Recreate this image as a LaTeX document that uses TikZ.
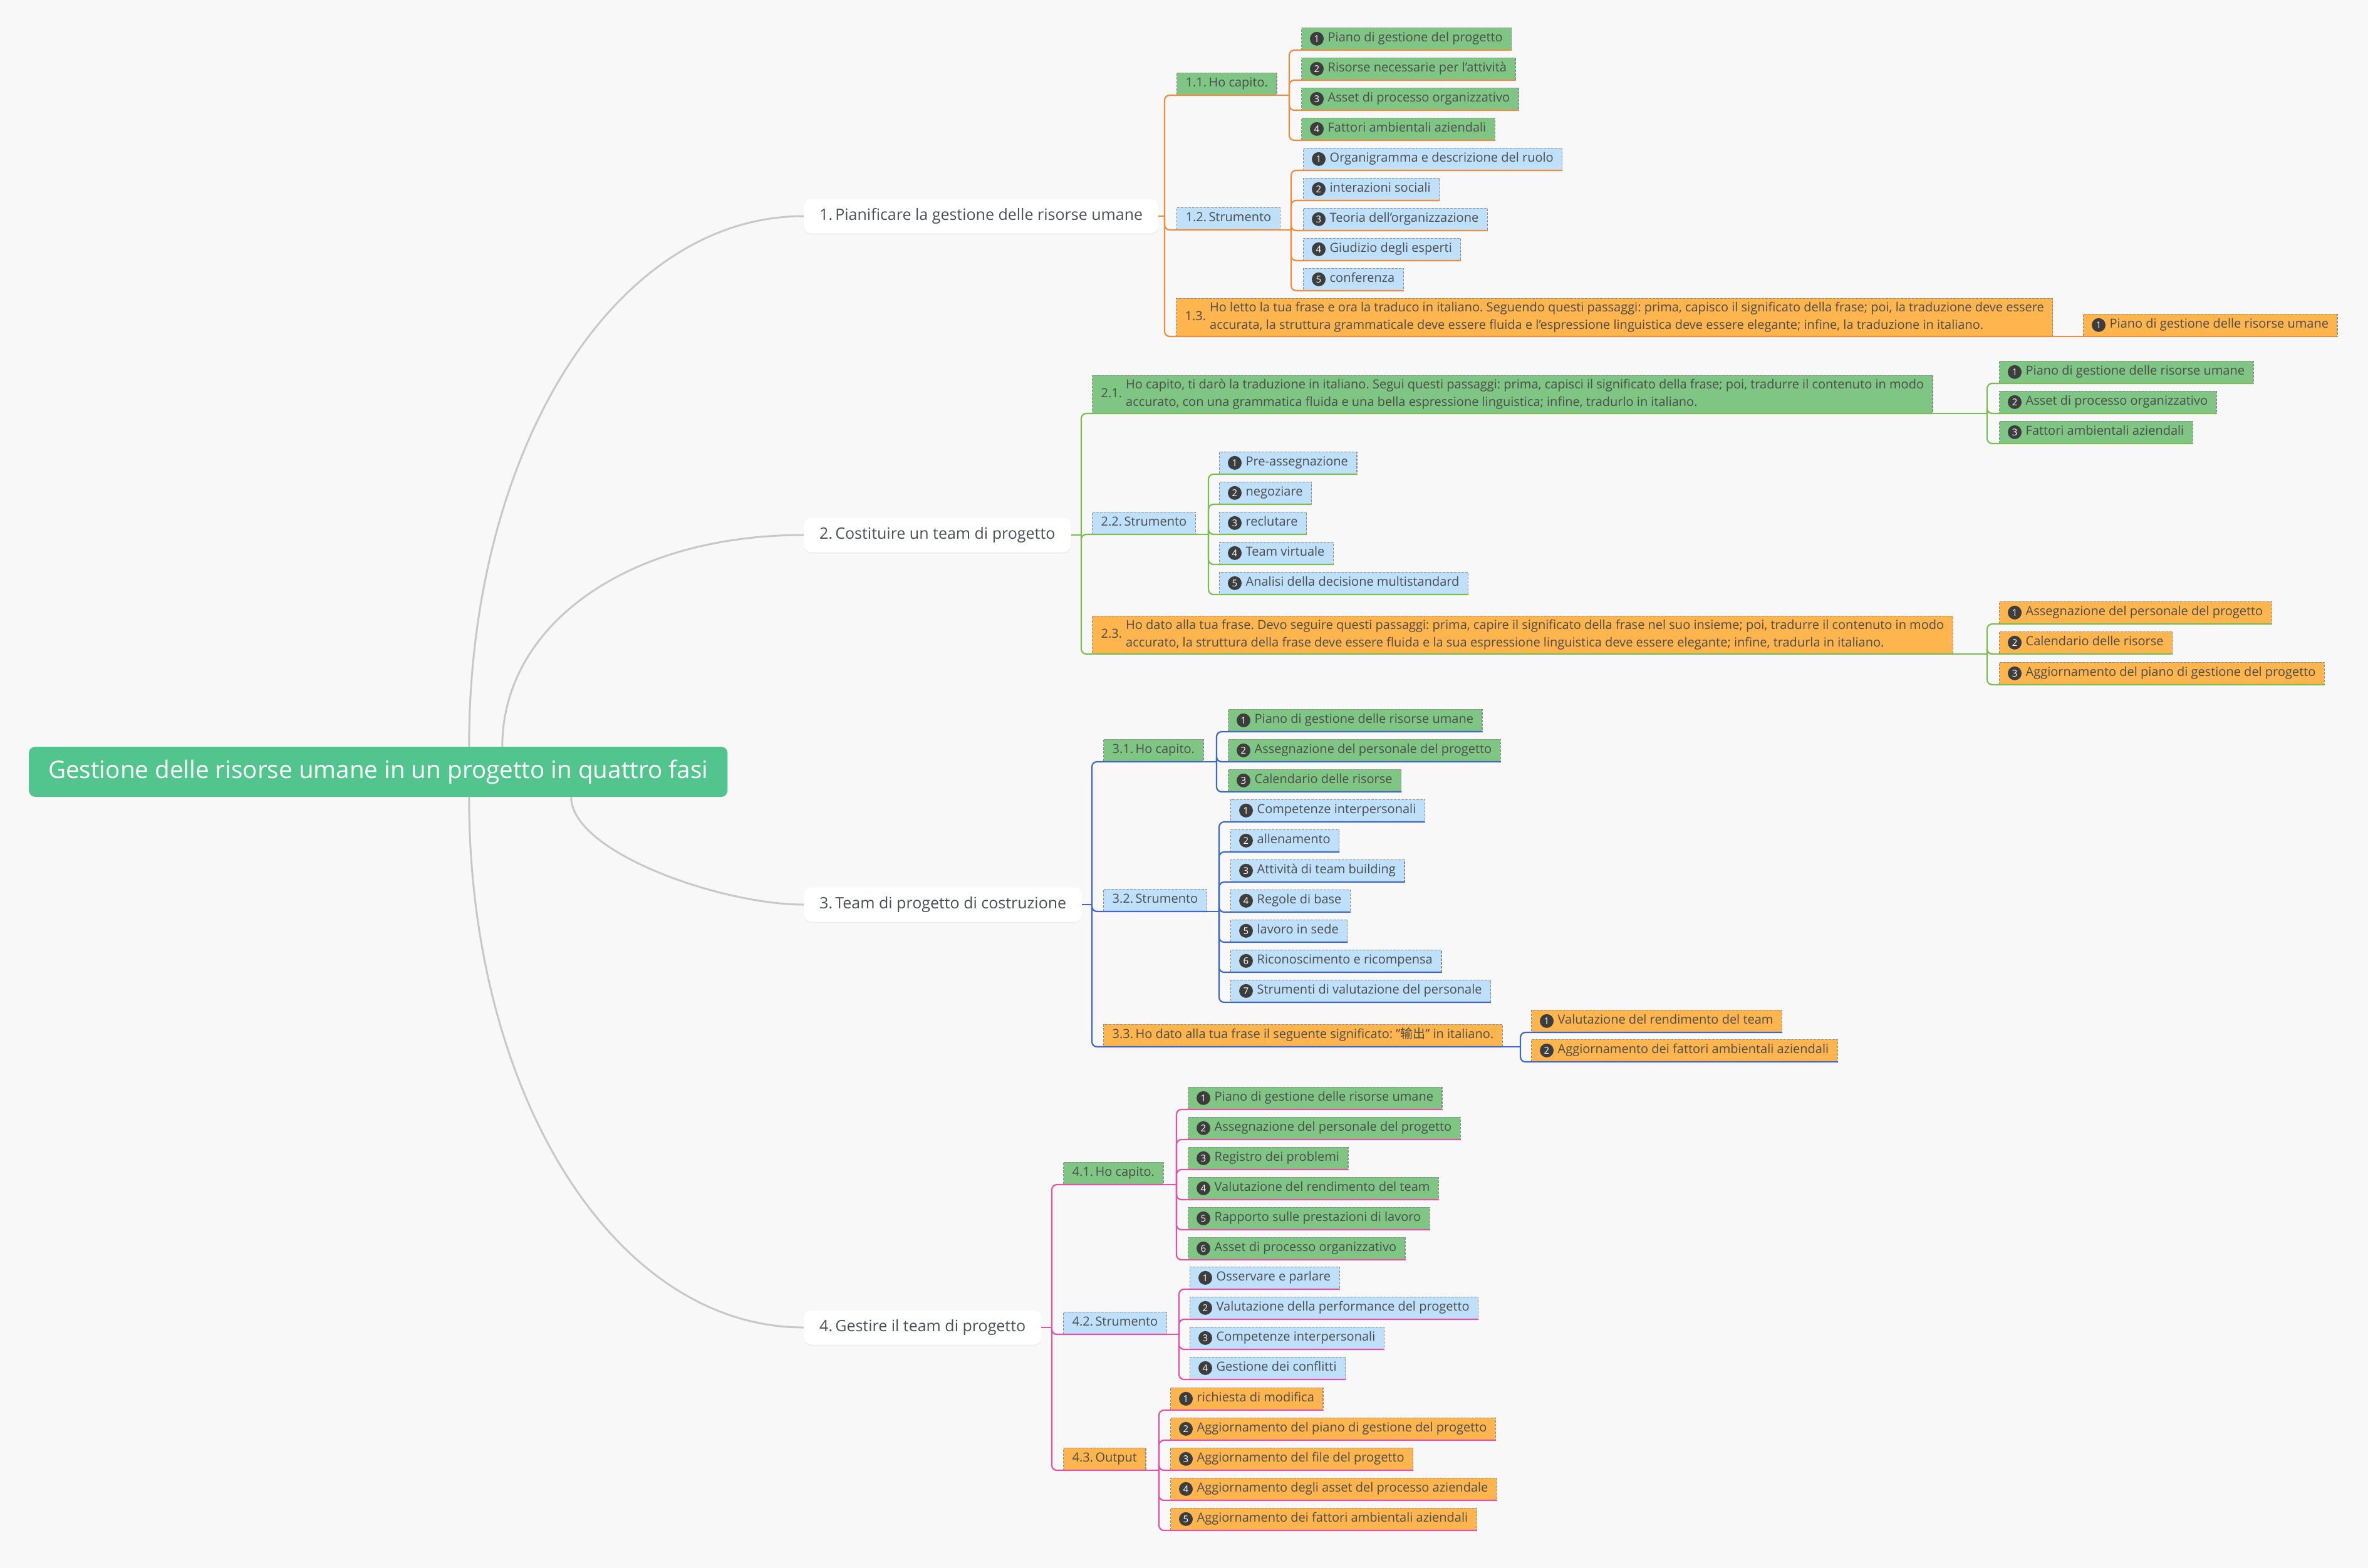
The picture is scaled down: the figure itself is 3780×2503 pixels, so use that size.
\documentclass[tikz,border=0pt]{standalone}
\usepackage{fontspec}
\setmainfont{Open Sans}
\newfontfamily\cjk{Noto Sans CJK SC}
\usetikzlibrary{shadows}
\frenchspacing

\definecolor{bg}{HTML}{F8F8F8}
\definecolor{rootc}{HTML}{52C48D}
\definecolor{txt}{HTML}{4C4C4C}
\definecolor{topictxt}{HTML}{4A4F57}
\definecolor{dashc}{HTML}{8C8C8C}
\definecolor{gfill}{HTML}{7FC685}
\definecolor{bfill}{HTML}{BEE0FB}
\definecolor{ofill}{HTML}{FFB54D}
\definecolor{numc}{HTML}{3D3D3D}
\definecolor{rootln}{HTML}{C8C8C8}
\definecolor{brA}{HTML}{F08C3C}
\definecolor{brB}{HTML}{7CBD4F}
\definecolor{brC}{HTML}{3D67C8}
\definecolor{brD}{HTML}{E552A1}

% a numbered leaf: style, name, x, bottom y, number, text
\newcommand\leaf[6]{%
  \node[#1] (#2) at (#3,#4) {#6};
  \node[numdot] at ([xshift=25pt]#2.west) {#5};}
% underline connectors: style, parent point, trunk, children
\newcommand\fork[4]{%
  \draw[#1] (#2) -- (#2 -| #3);
  \foreach \ch in {#4}
    \draw[#1, rounded corners=8pt] (#2 -| #3) |- (\ch.south east);}

\tikzset{
  every node/.style={font=\fontsize{20}{28}\selectfont, text=txt},
  root/.style={fill=rootc, rounded corners=10pt, text=white, anchor=west,
    font=\fontsize{38.6}{46}\selectfont, minimum height=80pt, inner xsep=31pt},
  topic/.style={fill=white, rounded corners=12pt, text=topictxt, anchor=west,
    font=\fontsize{25}{30}\selectfont, minimum height=55pt, inner xsep=25pt,
    drop shadow={shadow xshift=0pt, shadow yshift=-2pt, opacity=0.08}},
  box/.style={draw=dashc, dash pattern=on 4pt off 2pt, line width=1.3pt,
    minimum height=35pt, inner xsep=14pt, inner ysep=0pt, anchor=south west},
  lbl/.style={box, text height=15pt, text depth=5pt},
  leaf/.style={lbl, execute at begin node={\hspace*{28pt}}},
  glbl/.style={lbl, fill=gfill}, blbl/.style={lbl, fill=bfill}, olbl/.style={lbl, fill=ofill},
  gleaf/.style={leaf, fill=gfill}, bleaf/.style={leaf, fill=bfill}, oleaf/.style={leaf, fill=ofill},
  glong/.style={box, fill=gfill, inner ysep=2pt}, olong/.style={box, fill=ofill, inner ysep=2pt},
  numdot/.style={circle, fill=numc, text=white, inner sep=0pt, minimum size=22pt,
    font=\fontsize{15}{15}\selectfont},
  rootline/.style={draw=rootln, line width=3pt},
  lnA/.style={draw=brA, line width=2.2pt}, lnB/.style={draw=brB, line width=2.2pt},
  lnC/.style={draw=brC, line width=2.2pt}, lnD/.style={draw=brD, line width=2.2pt}
}

\begin{document}
\begin{tikzpicture}[x=1pt, y=-1pt]
\useasboundingbox (0,0) rectangle (3780,2503);
\fill[bg] (0,0) rectangle (3780,2503);

% root and main topics
\node[root] (root) at (46,1232) {Gestione delle risorse umane in un progetto in quattro fasi};
\node[topic] (t1) at (1283,345) {1.\,Pianificare la gestione delle risorse umane};
\node[topic] (t2) at (1283,854) {2.\,Costituire un team di progetto};
\node[topic] (t3) at (1283,1444) {3.\,Team di progetto di costruzione};
\node[topic] (t4) at (1283,2119) {4.\,Gestire il team di progetto};

\draw[rootline] ([xshift=145pt]root.north) .. controls +(0,-473) and +(-303,0) .. (t1.west);
\draw[rootline] ([xshift=198pt]root.north) .. controls +(0,-193) and +(-283,0) .. (t2.west);
\draw[rootline] ([xshift=308pt]root.south) .. controls +(0,88) and +(-133,0) .. (t3.west);
\draw[rootline] ([xshift=145pt]root.south) .. controls +(0,473) and +(-303,0) .. (t4.west);

% trunks
\coordinate (x1) at (1859,0);  \coordinate (x11) at (2058,0); \coordinate (x12) at (2061,0);
\coordinate (x2) at (1726,0);  \coordinate (x21) at (3172,0); \coordinate (x22) at (1929,0);
\coordinate (x3) at (1743,0);  \coordinate (x31) at (1942,0); \coordinate (x32) at (1946,0);
\coordinate (x33) at (2427,0);
\coordinate (x4) at (1679,0);  \coordinate (x41) at (1878,0); \coordinate (x42) at (1882,0);
\coordinate (x43) at (1850,0);

% branch 1
\node[glbl] (s11) at (1878,152) {1.1.\,Ho capito.};
\node[blbl] (s12) at (1878,367) {1.2.\,Strumento};
\node[olong] (s13) at (1877,537) {1.3.\hspace{6pt}\begin{tabular}{@{}l@{}}Ho letto la tua frase e ora la traduco in italiano. Seguendo questi passaggi: prima, capisco il significato della frase; poi, la traduzione deve essere\\accurata, la struttura grammaticale deve essere fluida e l'espressione linguistica deve essere elegante; infine, la traduzione in italiano.\end{tabular}};
\leaf{gleaf}{l111}{2077}{80}{1}{Piano di gestione del progetto}
\leaf{gleaf}{l112}{2077}{128}{2}{Risorse necessarie per l'attività}
\leaf{gleaf}{l113}{2077}{176}{3}{Asset di processo organizzativo}
\leaf{gleaf}{l114}{2077}{224}{4}{Fattori ambientali aziendali}
\leaf{bleaf}{l121}{2080}{272}{1}{Organigramma e descrizione del ruolo}
\leaf{bleaf}{l122}{2080}{320}{2}{interazioni sociali}
\leaf{bleaf}{l123}{2080}{368}{3}{Teoria dell'organizzazione}
\leaf{bleaf}{l124}{2080}{416}{4}{Giudizio degli esperti}
\leaf{bleaf}{l125}{2080}{464}{5}{conferenza}
\leaf{oleaf}{l131}{3325}{537}{1}{Piano di gestione delle risorse umane}
\fork{lnA}{t1.east}{x1}{s11,s12,s13}
\fork{lnA}{s11.south east}{x11}{l111,l112,l113,l114}
\fork{lnA}{s12.south east}{x12}{l121,l122,l123,l124,l125}
\draw[lnA] (s13.south east) -- (l131.south east);

% branch 2
\node[glong] (s21) at (1743,660) {2.1.\hspace{6pt}\begin{tabular}{@{}l@{}}Ho capito, ti darò la traduzione in italiano. Segui questi passaggi: prima, capisci il significato della frase; poi, tradurre il contenuto in modo\\accurato, con una grammatica fluida e una bella espressione linguistica; infine, tradurlo in italiano.\end{tabular}};
\node[blbl] (s22) at (1743,853) {2.2.\,Strumento};
\node[olong] (s23) at (1743,1044) {2.3.\hspace{6pt}\begin{tabular}{@{}l@{}}Ho dato alla tua frase. Devo seguire questi passaggi: prima, capire il significato della frase nel suo insieme; poi, tradurre il contenuto in modo\\accurato, la struttura della frase deve essere fluida e la sua espressione linguistica deve essere elegante; infine, tradurla in italiano.\end{tabular}};
\leaf{gleaf}{l211}{3191}{612}{1}{Piano di gestione delle risorse umane}
\leaf{gleaf}{l212}{3191}{660}{2}{Asset di processo organizzativo}
\leaf{gleaf}{l213}{3191}{708}{3}{Fattori ambientali aziendali}
\leaf{bleaf}{l221}{1946}{757}{1}{Pre-assegnazione}
\leaf{bleaf}{l222}{1946}{805}{2}{negoziare}
\leaf{bleaf}{l223}{1946}{853}{3}{reclutare}
\leaf{bleaf}{l224}{1946}{901}{4}{Team virtuale}
\leaf{bleaf}{l225}{1946}{949}{5}{Analisi della decisione multistandard}
\leaf{oleaf}{l231}{3191}{996}{1}{Assegnazione del personale del progetto}
\leaf{oleaf}{l232}{3191}{1044}{2}{Calendario delle risorse}
\leaf{oleaf}{l233}{3191}{1093}{3}{Aggiornamento del piano di gestione del progetto}
\fork{lnB}{t2.east}{x2}{s21,s22,s23}
\fork{lnB}{s21.south east}{x21}{l211,l212,l213}
\fork{lnB}{s22.south east}{x22}{l221,l222,l223,l224,l225}
\fork{lnB}{s23.south east}{x21}{l231,l232,l233}

% branch 3
\node[glbl] (s31) at (1761,1216) {3.1.\,Ho capito.};
\node[blbl] (s32) at (1761,1455) {3.2.\,Strumento};
\node[olbl] (s33) at (1761,1671) {3.3.\,Ho dato alla tua frase il seguente significato: "{\cjk 输出}" in italiano.};
\leaf{gleaf}{l311}{1960}{1168}{1}{Piano di gestione delle risorse umane}
\leaf{gleaf}{l312}{1960}{1216}{2}{Assegnazione del personale del progetto}
\leaf{gleaf}{l313}{1960}{1264}{3}{Calendario delle risorse}
\leaf{bleaf}{l321}{1964}{1312}{1}{Competenze interpersonali}
\leaf{bleaf}{l322}{1964}{1360}{2}{allenamento}
\leaf{bleaf}{l323}{1964}{1408}{3}{Attività di team building}
\leaf{bleaf}{l324}{1964}{1456}{4}{Regole di base}
\leaf{bleaf}{l325}{1964}{1504}{5}{lavoro in sede}
\leaf{bleaf}{l326}{1964}{1552}{6}{Riconoscimento e ricompensa}
\leaf{bleaf}{l327}{1964}{1600}{7}{Strumenti di valutazione del personale}
\leaf{oleaf}{l331}{2444}{1648}{1}{Valutazione del rendimento del team}
\leaf{oleaf}{l332}{2444}{1695}{2}{Aggiornamento dei fattori ambientali aziendali}
\fork{lnC}{t3.east}{x3}{s31,s32,s33}
\fork{lnC}{s31.south east}{x31}{l311,l312,l313}
\fork{lnC}{s32.south east}{x32}{l321,l322,l323,l324,l325,l326,l327}
\fork{lnC}{s33.south east}{x33}{l331,l332}

% branch 4
\node[glbl] (s41) at (1697,1891) {4.1.\,Ho capito.};
\node[blbl] (s42) at (1697,2130) {4.2.\,Strumento};
\node[olbl] (s43) at (1697,2347) {4.3.\,Output};
\leaf{gleaf}{l411}{1896}{1771}{1}{Piano di gestione delle risorse umane}
\leaf{gleaf}{l412}{1896}{1819}{2}{Assegnazione del personale del progetto}
\leaf{gleaf}{l413}{1896}{1867}{3}{Registro dei problemi}
\leaf{gleaf}{l414}{1896}{1915}{4}{Valutazione del rendimento del team}
\leaf{gleaf}{l415}{1896}{1963}{5}{Rapporto sulle prestazioni di lavoro}
\leaf{gleaf}{l416}{1896}{2011}{6}{Asset di processo organizzativo}
\leaf{bleaf}{l421}{1899}{2058}{1}{Osservare e parlare}
\leaf{bleaf}{l422}{1899}{2106}{2}{Valutazione della performance del progetto}
\leaf{bleaf}{l423}{1899}{2154}{3}{Competenze interpersonali}
\leaf{bleaf}{l424}{1899}{2202}{4}{Gestione dei conflitti}
\leaf{oleaf}{l431}{1868}{2251}{1}{richiesta di modifica}
\leaf{oleaf}{l432}{1868}{2299}{2}{Aggiornamento del piano di gestione del progetto}
\leaf{oleaf}{l433}{1868}{2347}{3}{Aggiornamento del file del progetto}
\leaf{oleaf}{l434}{1868}{2395}{4}{Aggiornamento degli asset del processo aziendale}
\leaf{oleaf}{l435}{1868}{2443}{5}{Aggiornamento dei fattori ambientali aziendali}
\fork{lnD}{t4.east}{x4}{s41,s42,s43}
\fork{lnD}{s41.south east}{x41}{l411,l412,l413,l414,l415,l416}
\fork{lnD}{s42.south east}{x42}{l421,l422,l423,l424}
\fork{lnD}{s43.south east}{x43}{l431,l432,l433,l434,l435}
\end{tikzpicture}
\end{document}
